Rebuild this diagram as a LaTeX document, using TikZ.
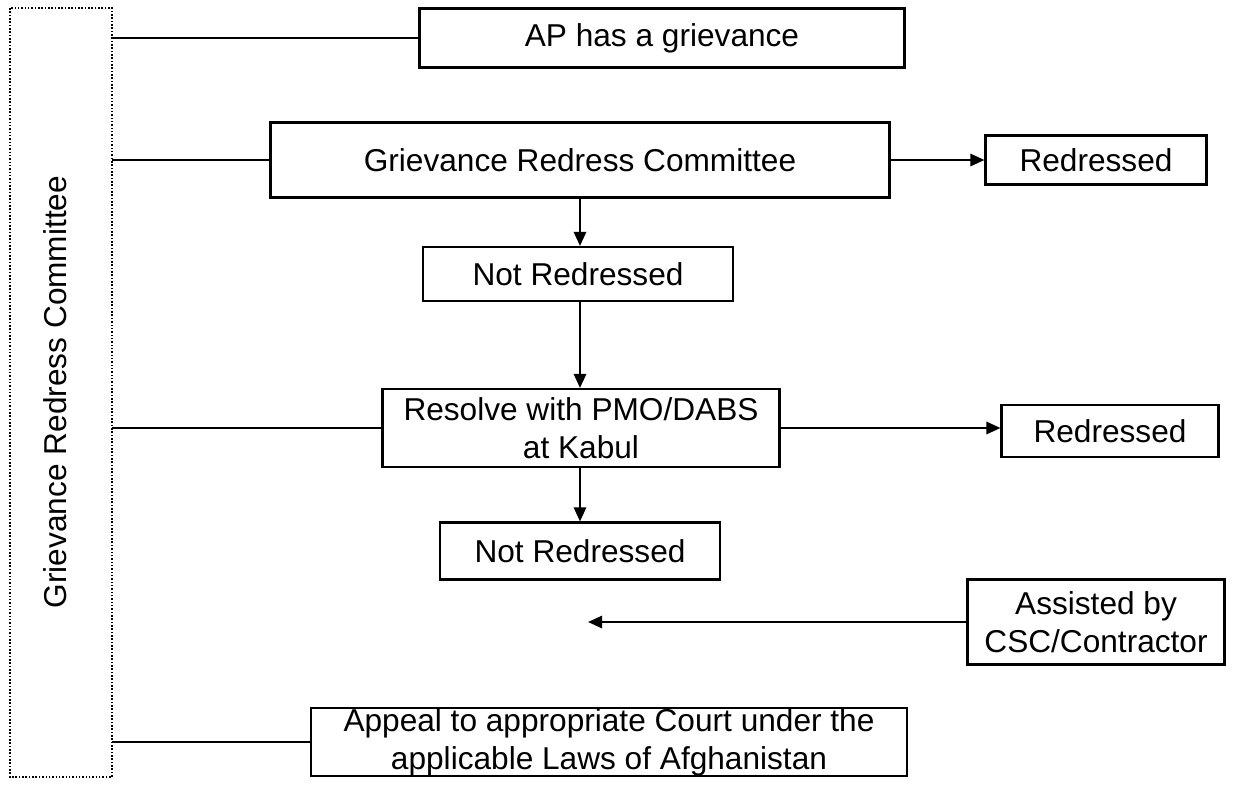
\documentclass[tikz,border=0pt]{standalone}
\usepackage{fontspec}
\setmainfont{Liberation Sans}
\usetikzlibrary{arrows.meta,positioning}
\tikzstyle{box} = [rectangle, draw=black, line width=1.2pt, text centered, align=center, inner sep=0pt, font=\fontsize{18}{21.5}\selectfont]
\tikzstyle{arrow} = [line width=1.2pt,-{Triangle[length=8pt,width=7pt]}]
\tikzstyle{link} = [line width=1.2pt]

\begin{document}
\begin{tikzpicture}[x=0.02cm,y=-0.02cm]
\useasboundingbox (0,0) rectangle (1243,785);
% side panel
\draw[densely dotted,line width=0.9pt] (10,8) rectangle (112,777);
\node[rotate=90,font=\fontsize{18}{21.5}\selectfont] (side) at (55,392) {Grievance Redress Committee};
\coordinate (sidee) at (112,392);
% flow boxes
\node[box,minimum width=485*0.02cm,minimum height=59*0.02cm] (ap) at (662,38) {AP has a grievance};
\node[box,minimum width=619*0.02cm,minimum height=75*0.02cm] (grc) at (580,160) {Grievance Redress Committee};
\node[box,minimum width=221*0.02cm,minimum height=49*0.02cm] (red1) at (1096,160) {Redressed};
\node[box,minimum width=310*0.02cm,minimum height=54*0.02cm] (nr1) at (578,274) {Not Redressed};
\node[box,minimum width=397*0.02cm,minimum height=78*0.02cm] (res) at (581,428) {Resolve with PMO/DABS\\at Kabul};
\node[box,minimum width=217*0.02cm,minimum height=52*0.02cm] (red2) at (1110,431) {Redressed};
\node[box,minimum width=280*0.02cm,minimum height=57*0.02cm] (nr2) at (580,551) {Not Redressed};
\node[box,minimum width=257*0.02cm,minimum height=85*0.02cm] (ast) at (1096,622) {Assisted by\\CSC/Contractor};
\node[box,minimum width=596*0.02cm,minimum height=57*0.02cm] (app) at (609,742) {Appeal to appropriate Court under the\\applicable Laws of Afghanistan};
\coordinate (astend) at (588,622);
% links from side panel
\draw[link] (sidee |- ap.west) -- (ap.west);
\draw[link] (sidee |- grc.west) -- (grc.west);
\draw[link] (sidee |- res.west) -- (res.west);
\draw[link] (sidee |- app.west) -- (app.west);
% arrows
\draw[arrow] (grc.east) -- (red1.west);
\draw[arrow] (grc.south) -- (grc.south |- nr1.north);
\draw[arrow] (grc.south |- nr1.south) -- (grc.south |- res.north);
\draw[arrow] (res.east) -- (res.east -| red2.west);
\draw[arrow] (grc.south |- res.south) -- (grc.south |- nr2.north);
\draw[arrow] (ast.west) -- (astend);
\end{tikzpicture}
\end{document}
